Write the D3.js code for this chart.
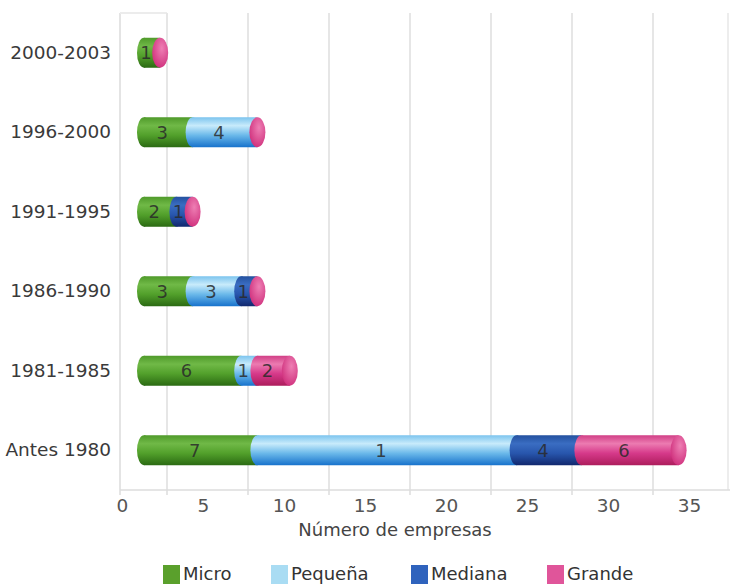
<!DOCTYPE html>
<html><head><meta charset="utf-8">
<script src="https://cdn.jsdelivr.net/npm/d3@7"></script>
<style>
html,body{margin:0;padding:0;background:#fff;}
svg{display:block;font-family:"DejaVu Sans",Arial,sans-serif;}
</style></head>
<body>
<svg id="chart" width="730" height="585"></svg>
<script>
// ---- data ----
const categories = ["2000-2003","1996-2000","1991-1995","1986-1990","1981-1985","Antes 1980"];
const seriesNames = ["Micro","Pequeña","Mediana","Grande"];
const micro   = [1, 3, 2, 3, 6, 7];
const pequena = [0, 4, 0, 3, 1, 16];
const mediana = [0, 0, 1, 1, 0, 4];
const grande  = [0, 0, 0, 0, 2, 6];
// label text as printed in the original (the 16 is printed as "1")
const pequenaLabels = ["", "4", "", "3", "1", "1"];
const xTicks = [0, 5, 10, 15, 20, 25, 30, 35];
const xTitle = "Número de empresas";

const seriesValues = [micro, pequena, mediana, grande];
const seriesLabels = [micro.map(String), pequenaLabels, mediana.map(String), grande.map(String)];
const palette = {
  Micro:    {top:"#4f9a2a", hi:"#70b947", mid:"#52a02b", bot:"#2b6a13", legend:"#5aa02c"},
  "Pequeña":{top:"#7cc4ee", hi:"#c8ebfb", mid:"#6bb9ea", bot:"#1772cc", legend:"#a9dcf3"},
  Mediana:  {top:"#24519f", hi:"#3a6dc2", mid:"#2856ad", bot:"#11286e", legend:"#2f63bd"},
  Grande:   {top:"#d13f86", hi:"#ec7bb1", mid:"#d6398a", bot:"#ad1d5c", legend:"#e0559a"}
};

const svg = d3.select("#chart");
const W = 730, H = 585;
const FONT = "'DejaVu Sans',Arial,sans-serif";

// scales
const x = d3.scaleLinear().domain([0, 35]).range([144, 144 + 35 * 16.2]);
const y = d3.scaleBand().domain(categories).range([13, 490]).padding(0);
const barH = 30, capRx = 7;
const depthX = 58;     // back-wall gridline shift
const labelShift = 22; // front axis label shift
const plotLeft = 120, plotRight = 728, plotTop = 13, plotBottom = 490;

// gradients
const defs = svg.append("defs");
seriesNames.forEach((s, i) => {
  const c = palette[s];
  const g = defs.append("linearGradient").attr("id", "g" + i)
    .attr("x1", 0).attr("y1", 0).attr("x2", 0).attr("y2", 1);
  g.append("stop").attr("offset", "0%").attr("stop-color", c.top);
  g.append("stop").attr("offset", "28%").attr("stop-color", c.hi);
  g.append("stop").attr("offset", "60%").attr("stop-color", c.mid);
  g.append("stop").attr("offset", "100%").attr("stop-color", c.bot);
});
const capG = defs.append("radialGradient").attr("id", "cap")
  .attr("cx", "60%").attr("cy", "35%").attr("r", "70%");
capG.append("stop").attr("offset", "0%").attr("stop-color", "#ee7fb4");
capG.append("stop").attr("offset", "100%").attr("stop-color", "#cf2f7c");

// walls & gridlines
const grid = svg.append("g");
grid.append("line").attr("x1", plotLeft).attr("x2", plotLeft)
  .attr("y1", plotTop).attr("y2", plotBottom).attr("stroke", "#e4e4e4").attr("stroke-width", 2);
grid.append("line").attr("x1", plotLeft).attr("x2", x(5) - depthX)
  .attr("y1", plotTop).attr("y2", plotTop).attr("stroke", "#ececec").attr("stroke-width", 2);
grid.selectAll("line.g").data(xTicks.filter(t => t > 0)).join("line").attr("class", "g")
  .attr("x1", d => x(d) - depthX).attr("x2", d => x(d) - depthX)
  .attr("y1", plotTop).attr("y2", plotBottom)
  .attr("stroke", "#e6e6e6").attr("stroke-width", 2);
grid.append("line").attr("x1", plotRight).attr("x2", plotRight)
  .attr("y1", plotTop).attr("y2", plotBottom).attr("stroke", "#ededed").attr("stroke-width", 2);
grid.append("line").attr("x1", plotLeft).attr("x2", W)
  .attr("y1", plotBottom).attr("y2", plotBottom).attr("stroke", "#dcdcdc").attr("stroke-width", 1.5);
grid.selectAll("line.t").data(xTicks).join("line").attr("class", "t")
  .attr("x1", d => d === 0 ? plotLeft : x(d) - depthX).attr("x2", d => d === 0 ? plotLeft : x(d) - depthX)
  .attr("y1", plotBottom).attr("y2", plotBottom + 5)
  .attr("stroke", "#dcdcdc").attr("stroke-width", 1.5);

// x axis labels (front)
const xAxis = d3.axisBottom(x).tickValues(xTicks).tickSize(0).tickPadding(0);
const ax = svg.append("g").attr("transform", `translate(${-labelShift},498)`).call(xAxis);
ax.select(".domain").remove();
ax.selectAll("text").attr("font-size", 18.5).attr("fill", "#555")
  .attr("font-family", FONT).attr("dy", "0.73em");

svg.append("text").attr("x", 395).attr("y", 536).attr("text-anchor", "middle")
  .attr("font-size", 18).attr("fill", "#444").text(xTitle);

// category labels
const yAxis = d3.axisLeft(y).tickSize(0).tickPadding(0);
const ay = svg.append("g").attr("transform", "translate(111,0)").call(yAxis);
ay.select(".domain").remove();
ay.selectAll("text").attr("font-size", 18.5).attr("fill", "#3a3a3a")
  .attr("font-family", FONT);

// stacked cylinders
const bars = svg.append("g");
categories.forEach((cat, ci) => {
  const cy = y(cat) + y.bandwidth() / 2;
  const g = bars.append("g");
  let acc = 0;
  const segs = [];
  seriesNames.forEach((s, si) => {
    const v = seriesValues[si][ci];
    if (v > 0) segs.push({si, x0: acc, x1: acc + v, label: seriesLabels[si][ci]});
    acc += v;
  });
  segs.forEach(sg => {
    g.append("rect").attr("x", x(sg.x0)).attr("y", cy - barH / 2)
      .attr("width", x(sg.x1) - x(sg.x0)).attr("height", barH)
      .attr("fill", `url(#g${sg.si})`);
    g.append("ellipse").attr("cx", x(sg.x0)).attr("cy", cy)
      .attr("rx", capRx).attr("ry", barH / 2).attr("fill", `url(#g${sg.si})`);
  });
  // end cap
  g.append("ellipse").attr("cx", x(acc)).attr("cy", cy)
    .attr("rx", capRx + 1).attr("ry", barH / 2).attr("fill", "url(#cap)");
  segs.forEach(sg => {
    if (!sg.label) return;
    g.append("text").attr("x", (x(sg.x0) + x(sg.x1)) / 2 - 6).attr("y", cy)
      .attr("dy", "0.36em").attr("text-anchor", "middle")
      .attr("font-size", 18).attr("fill", "#2a2a2a").attr("fill-opacity", 0.85)
      .text(sg.label);
  });
});

// legend
const legendX = [163, 271, 411, 547];
const lg = svg.append("g");
seriesNames.forEach((s, i) => {
  lg.append("rect").attr("x", legendX[i]).attr("y", 565).attr("width", 17).attr("height", 19)
    .attr("fill", palette[s].legend);
  lg.append("text").attr("x", legendX[i] + 20).attr("y", 574).attr("dy", "0.36em")
    .attr("font-size", 18).attr("fill", "#333").text(s);
});
</script>
</body></html>
